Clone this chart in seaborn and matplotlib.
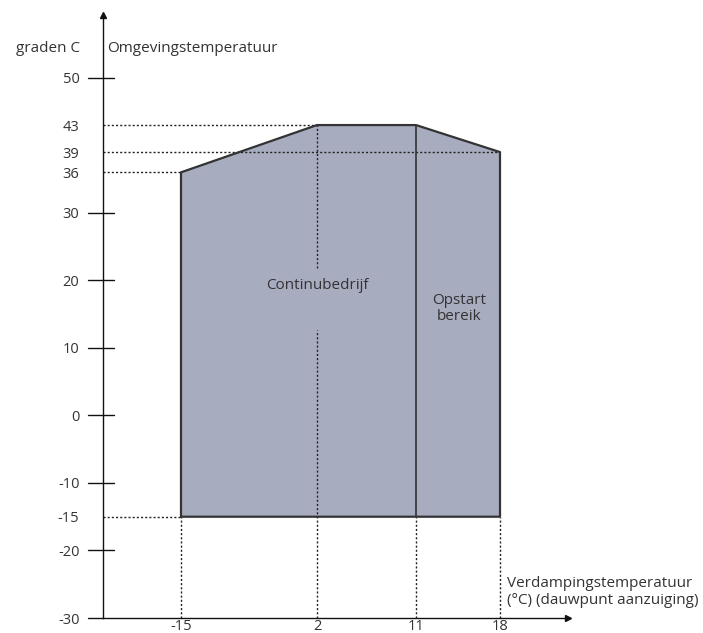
import numpy as np
import matplotlib
matplotlib.use("Agg")
import matplotlib.pyplot as plt
import seaborn as sns

sns.set_style("white")
plt.rcParams['font.family'] = ['Open Sans', 'DejaVu Sans']

# werkgebied (verdampingstemperatuur, omgevingstemperatuur)
evap_pts = [-15, -15, 2, 11, 18, 18, -15]
amb_pts = [-15, 36, 43, 43, 39, -15, -15]
split_x = 11  # grens continubedrijf / opstart bereik

x_ticks = [-15, 2, 11, 18]
y_ticks = [50, 30, 20, 10, 0, -10, -20]
y_labels = [50, 43, 39, 36, 30, 20, 10, 0, -10, -15, -20, -30]
label_gap = (12.7, 21.8)  # onderbreking hulplijn bij tekst

fill_col = '#a8acbf'
edge_col = '#333333'
txt_col = '#333333'

# schematische x-as: niet lineair
x_anchor = [-25, -15, 2, 11, 18, 25]
x_pos = [0, 78, 214, 313, 397, 465]
fwd = lambda v: np.interp(v, x_anchor, x_pos, left=-1e3, right=1e3)
inv = lambda v: np.interp(v, x_pos, x_anchor)

fig = plt.figure(figsize=(7.03, 6.33), dpi=100)
ax = fig.add_axes([103 / 703, 15 / 633, 465 / 703, 603 / 633])
ax.set_xscale('function', functions=(fwd, inv))
ax.set_xlim(-25, 25)
ax.set_ylim(-30, 59.3)

ax.fill(evap_pts, amb_pts, color=fill_col, zorder=1, lw=0)
sns.lineplot(x=evap_pts, y=amb_pts, sort=False, estimator=None, color=edge_col,
             lw=1.6, ax=ax, zorder=4)
ax.vlines(split_x, -15, 43, color=edge_col, lw=1.2, zorder=4)

dot = dict(color='#222222', lw=1.0, linestyle=(0, (1.5, 1.5)), zorder=3)
# horizontale hulplijnen
ax.hlines(43, -25, 2, **dot)
ax.hlines(39, -25, 18, **dot)
ax.hlines(36, -25, -15, **dot)
ax.hlines(-15, -25, -15, **dot)
# verticale hulplijnen
ax.vlines(-15, -30, -15, **dot)
ax.vlines(2, label_gap[1], 43, **dot)
ax.vlines(2, -30, label_gap[0], **dot)
ax.vlines(11, -30, -15, **dot)
ax.vlines(18, -30, -15, **dot)

ax.text(2, 19.2, 'Continubedrijf', ha='center', va='center', fontsize=11,
        color=txt_col, zorder=5)
ax.text(14.6, 15.8, 'Opstart\nbereik', ha='center', va='center', fontsize=11,
        color=txt_col, linespacing=1.05, zorder=5)

# assen
for s in ['top', 'right']:
    ax.spines[s].set_visible(False)
for s in ['left', 'bottom']:
    ax.spines[s].set_color('#111111')
    ax.spines[s].set_linewidth(1.0)
ax.plot(0, 1, marker='^', color='#111111', ms=4, transform=ax.transAxes, clip_on=False)
ax.plot(1, 0, marker='>', color='#111111', ms=4, transform=ax.transAxes, clip_on=False)

ax.set_yticks(y_labels)
ax.set_yticklabels([str(v) for v in y_labels], fontsize=10.5, color=txt_col)
ax.tick_params(axis='y', length=0, pad=17)
for v in y_ticks:
    ax.plot([-0.033, 0.024], [v, v], color='#111111', lw=1.0,
            transform=ax.get_yaxis_transform(), clip_on=False)
ax.plot([-0.033, 0], [-30, -30], color='#111111', lw=1.0,
        transform=ax.get_yaxis_transform(), clip_on=False)

ax.set_xticks(x_ticks)
ax.set_xticklabels([str(v) for v in x_ticks], fontsize=10.5, color=txt_col)
ax.tick_params(axis='x', length=0, pad=1)
ax.minorticks_off()

fig.text(80 / 703, 1 - 48 / 633, 'graden C', ha='right', va='center', fontsize=11, color=txt_col)
fig.text(107 / 703, 1 - 48 / 633, 'Omgevingstemperatuur', ha='left', va='center',
         fontsize=11, color=txt_col)
fig.text(507 / 703, 1 - 592 / 633, 'Verdampingstemperatuur\n(°C) (dauwpunt aanzuiging)',
         ha='left', va='center', fontsize=11, color=txt_col, linespacing=1.15)

fig.savefig('out.png', dpi=100)
